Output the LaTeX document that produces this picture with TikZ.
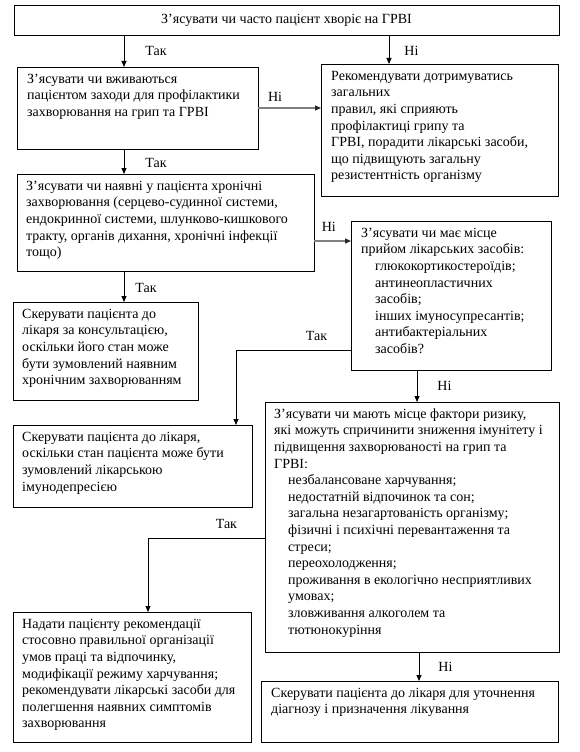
\documentclass[tikz,border=0pt]{standalone}
\usepackage{fontspec}
\setmainfont{Liberation Serif}
\usetikzlibrary{arrows.meta}
\newcommand\myfs{\rmfamily\fontsize{14}{16.6}\selectfont}
\newcommand\fl{\rule{0pt}{11pt}}
\newcommand\ind{\hspace*{14pt}}
\begin{document}
\begin{tikzpicture}[x=1pt,y=-1pt,
  box/.style={draw=black, line width=0.8pt, inner sep=0pt, outer sep=0pt, anchor=north west},
  txt/.style={anchor=north west, inner sep=0pt, align=left, font=\myfs},
  lbl/.style={inner sep=0pt, font=\myfs},
  arr/.style={line width=0.8pt, -{Triangle[length=6pt,width=5pt]}},
  garr/.style={draw=black!50, line width=1.3pt, -{Triangle[length=6pt,width=5pt,color=black!85]}},
  line/.style={line width=0.8pt}
]
\useasboundingbox[fill=white] (0,0) rectangle (580,752);

% boxes
\node[box, minimum width=545pt, minimum height=30pt] (b1) at (14,5) {};
\node[box, minimum width=241pt, minimum height=82pt] (b2) at (17,67) {};
\node[box, minimum width=237pt, minimum height=132pt] (b3) at (321,64) {};
\node[box, minimum width=297pt, minimum height=97pt] (b4) at (17,174) {};
\node[box, minimum width=200pt, minimum height=149pt] (b5) at (351,221) {};
\node[box, minimum width=185pt, minimum height=98pt] (b6) at (13,302) {};
\node[box, minimum width=239pt, minimum height=82pt] (b7) at (13,425) {};
\node[box, minimum width=294pt, minimum height=250pt] (b8) at (265,402) {};
\node[box, minimum width=297pt, minimum height=61pt] (b9) at (261,681) {};
\node[box, minimum width=238pt, minimum height=130pt] (b10) at (13,612) {};

% texts
\node[lbl] (t1) at (b1.center) {З’ясувати чи часто пацієнт хворіє на ГРВІ};
\node[txt] (t2) at ([shift={(10,5)}]b2.north west) {\fl З’ясувати чи вживаються\\
пацієнтом заходи для профілактики\\
захворювання на грип та ГРВІ};
\node[txt] (t3) at ([shift={(10,5)}]b3.north west) {\fl Рекомендувати дотримуватись\\
загальних\\
правил, які сприяють\\
профілактиці грипу та\\
ГРВІ, порадити лікарські засоби,\\
що підвищують загальну\\
резистентність організму};
\node[txt] (t4) at ([shift={(9,5)}]b4.north west) {\fl З’ясувати чи наявні у пацієнта хронічні\\
захворювання (серцево-судинної системи,\\
ендокринної системи, шлунково-кишкового\\
тракту, органів дихання, хронічні інфекції\\
тощо)};
\node[txt] (t5) at ([shift={(10,5)}]b5.north west) {\fl З’ясувати чи має місце\\
прийом лікарських засобів:\\
\ind глюкокортикостероїдів;\\
\ind антинеопластичних\\
\ind засобів;\\
\ind інших імуносупресантів;\\
\ind антибактеріальних\\
\ind засобів?};
\node[txt] (t6) at ([shift={(9,5)}]b6.north west) {\fl Скерувати пацієнта до\\
лікаря за консультацією,\\
оскільки його стан може\\
бути зумовлений наявним\\
хронічним захворюванням};
\node[txt] (t7) at ([shift={(9,5)}]b7.north west) {\fl Скерувати пацієнта до лікаря,\\
оскільки стан пацієнта може бути\\
зумовлений лікарською\\
імунодепресією};
\node[txt] (t8) at ([shift={(9,5)}]b8.north west) {\fl З’ясувати чи мають місце фактори ризику,\\
які можуть спричинити зниження імунітету і\\
підвищення захворюваності на грип та\\
ГРВІ:\\
\ind незбалансоване харчування;\\
\ind недостатній відпочинок та сон;\\
\ind загальна незагартованість організму;\\
\ind фізичні і психічні перевантаження та\\
\ind стреси;\\
\ind переохолодження;\\
\ind проживання в екологічно несприятливих\\
\ind умовах;\\
\ind зловживання алкоголем та\\
\ind тютюнокуріння};
\node[txt] (t9) at ([shift={(10,5)}]b9.north west) {\fl Скерувати пацієнта до лікаря для уточнення\\
діагнозу і призначення лікування};
\node[txt] (t10) at ([shift={(9,5)}]b10.north west) {\fl Надати пацієнту рекомендації\\
стосовно правильної організації\\
умов праці та відпочинку,\\
модифікації режиму харчування;\\
рекомендувати лікарські засоби для\\
полегшення наявних симптомів\\
захворювання};

% connector guide coordinates
\coordinate (x1) at (124,0);
\coordinate (x2) at (389,0);
\coordinate (x8) at (417,0);
\coordinate (x10) at (419,0);
\coordinate (y3) at (0,108);
\coordinate (y5) at (0,241);
\coordinate (k6) at (236,350);
\coordinate (k9) at (148,538);

% connectors
\draw[arr] (x1 |- b1.south) -- node[lbl, anchor=west, xshift=21pt] (l1) {Так} (x1 |- b2.north);
\draw[arr] (x2 |- b1.south) -- node[lbl, anchor=west, xshift=15pt, yshift=-1.5pt] (l2) {Ні} (x2 |- b3.north);
\draw[garr] (b2.east |- y3) -- node[lbl, pos=0.27, anchor=south, yshift=6pt] (l3) {Ні} (b3.west |- y3);
\draw[arr] (x1 |- b2.south) -- node[lbl, anchor=west, xshift=21pt, yshift=-1.5pt] (l4) {Так} (x1 |- b4.north);
\draw[garr] (b4.east |- y5) -- node[lbl, pos=0.4, anchor=south, yshift=9pt] (l5) {Ні} (b5.west |- y5);
\draw[arr] (x1 |- b4.south) -- node[lbl, anchor=west, xshift=11pt, yshift=-1pt] (l7) {Так} (x1 |- b6.north);
\draw[line] (k6 -| b5.west) -- node[lbl, pos=0.3, anchor=south, yshift=9pt] (l6) {Так} (k6);
\draw[arr] (k6) -- (k6 |- b7.north);
\draw[arr] (x8 |- b5.south) -- node[lbl, anchor=west, xshift=20pt] (l8) {Ні} (x8 |- b8.north);
\draw[line] (k9 -| b8.west) -- node[lbl, pos=0.33, anchor=south, yshift=9pt] (l9) {Так} (k9);
\draw[arr] (k9) -- (k9 |- b10.north);
\draw[arr] (x10 |- b8.south) -- node[lbl, anchor=west, xshift=19pt] (l10) {Ні} (x10 |- b9.north);
\end{tikzpicture}
\end{document}
